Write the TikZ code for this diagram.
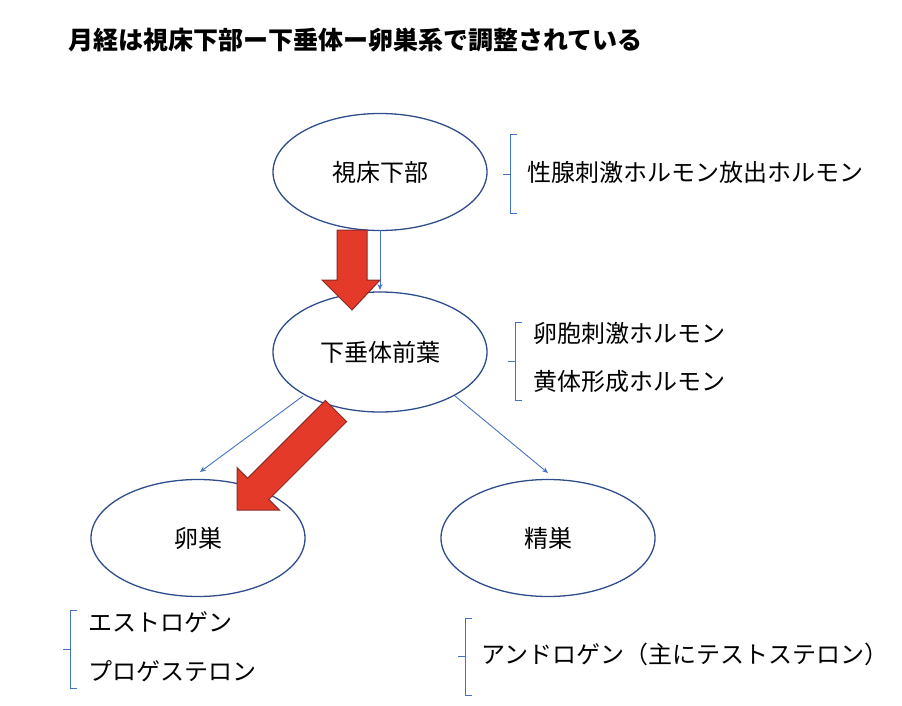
\documentclass[tikz,border=0pt]{standalone}
\usepackage{fontspec}
\setmainfont{Noto Sans CJK JP}
\definecolor{ellc}{HTML}{2F4C8C}
\definecolor{linec}{HTML}{4472C4}
\definecolor{redf}{HTML}{E33A2A}
\definecolor{redd}{HTML}{8A2A25}
\begin{document}
\begin{tikzpicture}[x=1pt,y=-1pt,
  ell/.style={draw=ellc,line width=1.3pt,ellipse,minimum width=214pt,minimum height=117pt,font=\fontsize{24}{28}\selectfont},
  lbl/.style={anchor=west,font=\fontsize{24}{28}\selectfont,inner sep=0},
  thin/.style={draw=linec,line width=0.9pt,-{Stealth[length=6pt,width=5pt]}},
  brk/.style={draw=linec,line width=1pt},
  redarrow/.style={fill=redf,draw=redd,line width=1pt}]
\usetikzlibrary{shapes.geometric,arrows.meta}
\useasboundingbox (0,0) rectangle (902,706);
\node[anchor=west,inner sep=0,font=\bfseries\fontsize{25}{29}\selectfont] (t) at (68,40) {月経は視床下部ー下垂体ー卵巣系で調整されている};
\node[ell] (h) at (380,172) {視床下部};
\node[ell,minimum height=120pt] (p) at (380,352) {下垂体前葉};
\node[ell] (o) at (198,538) {卵巣};
\node[ell] (s) at (548,538) {精巣};
\coordinate (a1) at (380,230);
\coordinate (a2) at (380,290);
\draw[thin] (a1) -- (a2);
\coordinate (b1) at (303,396); \coordinate (b2) at (200,472);
\draw[thin] (b1) -- (b2);
\coordinate (c1) at (455,396); \coordinate (c2) at (548,473);
\draw[thin] (c1) -- (c2);
% red arrows
\draw[redarrow] (337,230) -- (367,230) -- (367,280) -- (380,280) -- (352,310) -- (322,280) -- (337,280) -- cycle;
\begin{scope}[shift={(237,510)},rotate=-45]
\draw[redarrow] (0,0) -- (-30,-30) -- (-15,-30) -- (-15,-140) -- (15,-140) -- (15,-30) -- (30,-30) -- cycle;
\end{scope}
% brackets
\draw[brk] (517,135) -- (510,135) -- (510,213) -- (517,213) (510,174) -- (503,174);
\node[lbl] (l1) at (527,172) {性腺刺激ホルモン放出ホルモン};
\draw[brk] (522,322) -- (515,322) -- (515,400) -- (522,400) (515,361) -- (508,361);
\node[lbl] (l2) at (533,333) {卵胞刺激ホルモン};
\node[lbl] (l3) at (533,381) {黄体形成ホルモン};
\draw[brk] (77,610) -- (70,610) -- (70,688) -- (77,688) (70,649) -- (63,649);
\node[lbl] (l4) at (88,622) {エストロゲン};
\node[lbl] (l5) at (88,671) {プロゲステロン};
\draw[brk] (472,618) -- (465,618) -- (465,695) -- (472,695) (465,656) -- (458,656);
\node[lbl] (l6) at (481,654) {アンドロゲン（主にテストステロン）};
\end{tikzpicture}
\end{document}
